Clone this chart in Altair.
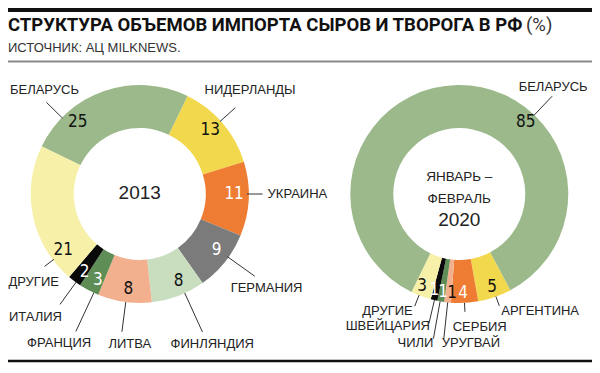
import math
import altair as alt
import pandas as pd

# ---------------- data ----------------
title_main = ["СТРУКТУРА ОБЪЕМОВ ИМПОРТА СЫРОВ И ТВОРОГА В РФ"]
title_unit = ["(%)"]
source_text = ["ИСТОЧНИК: АЦ MILKNEWS."]

panel_names = ["2013", "2020"]
center_lines_2013 = ["2013"]
center_lines_2020 = ["ЯНВАРЬ –", "ФЕВРАЛЬ", "2020"]

left_countries = ["НИДЕРЛАНДЫ", "УКРАИНА", "ГЕРМАНИЯ", "ФИНЛЯНДИЯ", "ЛИТВА",
                  "ФРАНЦИЯ", "ИТАЛИЯ", "ДРУГИЕ", "БЕЛАРУСЬ"]
left_values = [13, 11, 9, 8, 8, 3, 2, 21, 25]

right_countries = ["АРГЕНТИНА", "СЕРБИЯ", "УРУГВАЙ", "ЧИЛИ", "ШВЕЙЦАРИЯ",
                   "ДРУГИЕ", "БЕЛАРУСЬ"]
right_values = [5, 4, 1, 1, 1, 3, 85]

# ---------------- style / layout ----------------
slot_colors = ["#F2D84C", "#EE7D33", "#7B7B7B", "#C9DDBF", "#F2B08E",
               "#5E8E56", "#0A0A0A", "#F7F0A9", "#9BB98A"]
left_slots = [0, 1, 2, 3, 4, 5, 6, 7, 8]
right_slots = [0, 1, 4, 5, 6, 7, 8]
white_text_slots = {1, 2, 5, 6}

W, H = 584, 355
X0, X1 = 3, 597          # reference-pixel domain mapped on the plot width
Y0 = 3                   # reference-pixel origin on the plot height
R_OUT, R_IN = 109, 66

panel_layout = {
    "2013": dict(cx=137, cy=189, rot=26, rnum=96),
    "2020": dict(cx=462, cy=189, rot=152, rnum=99),
}

# (line angle shift, number angle shift, leader end radius, label dx, label dy, align)
left_label_layout = [
    (-1.0, -1.0, 130, 15, -18, "center"),
    (-2.6, -2.6, 125, 5, 0, "left"),
    (-3.5, -3.0, 143, 12, 12, "center"),
    (-4.0, -3.5, 152, 10, 12, "center"),
    (-0.5, -1.0, 139, 8, 12, "center"),
    (-2.5, -1.5, 152, -17, 12, "center"),
    (-0.5, -1.0, 137, -25, 13, "center"),
    (-25.0, -24.0, 121, -11, 16, "center"),
    (-27.0, -22.0, 132, -2, -12, "center"),
]
right_label_layout = [
    (-1.0, -0.7, 119, 2, 5, "left"),
    (0.0, 0.5, 118, 15, 15, "center"),
    (0.0, -2.0, 146, -2, 4, "left"),
    (0.5, -0.2, 147, 0, 4, "right"),
    (0.0, 1.4, 133, 1, 3, "right"),
    (1.4, 1.8, 121, -2, 5, "right"),
    (45.0, 44.0, 136, 1, -9, "center"),
]

NUM_FONT = "Liberation Sans Narrow, DejaVu Sans Condensed, Roboto, sans-serif"
LBL_FONT = "Liberation Sans, Arial, sans-serif"

# ---------------- table ----------------
rows = []
for panel, countries, values, slots, lay in [
    ("2013", left_countries, left_values, left_slots, left_label_layout),
    ("2020", right_countries, right_values, right_slots, right_label_layout),
]:
    p = panel_layout[panel]
    for i, (c, v, s, l) in enumerate(zip(countries, values, slots, lay)):
        rows.append(dict(panel=panel, order=i, country=c, value=v,
                         color=slot_colors[s],
                         tc="#ffffff" if s in white_text_slots else "#111111",
                         shift=l[0], nshift=l[1], rend=l[2], ldx=l[3], ldy=l[4],
                         align=l[5], **p))
df = pd.DataFrame(rows)

center_rows = []
for panel, lines, dys, sizes in [
    ("2013", center_lines_2013, [-1], [19]),
    ("2020", center_lines_2020, [-17, 5, 26], [13.5, 13.5, 19]),
]:
    p = panel_layout[panel]
    for t, dy, sz in zip(lines, dys, sizes):
        center_rows.append(dict(panel=panel, text=t, cx=p["cx"], cy=p["cy"], dy=dy, size=sz))
center_df = pd.DataFrame(center_rows)

xs = alt.Scale(domain=[X0, X1], range=[0, W])
ys = alt.Scale(domain=[Y0, Y0 + H], range=[0, H])
ts = alt.Scale(domain=[0, 360], range=[0, 2 * math.pi])

base = alt.Chart(df).transform_window(
    cum="sum(value)", groupby=["panel"], sort=[alt.SortField("order")],
    frame=[None, 0]
).transform_calculate(
    t0="datum.rot + (datum.cum - datum.value) * 3.6",
    t1="datum.rot + datum.cum * 3.6",
).transform_calculate(
    mid="(datum.t0 + datum.t1) / 2",
).transform_calculate(
    la="(datum.mid + datum.shift) * PI / 180",
    na="(datum.mid + datum.nshift) * PI / 180",
).transform_calculate(
    nx="datum.cx + datum.rnum * sin(datum.na)",
    ny="datum.cy - datum.rnum * cos(datum.na)",
    lx1=f"datum.cx + {R_OUT} * sin(datum.la)",
    ly1=f"datum.cy - {R_OUT} * cos(datum.la)",
    lx2="datum.cx + datum.rend * sin(datum.la)",
    ly2="datum.cy - datum.rend * cos(datum.la)",
).transform_calculate(
    tx="datum.lx2 + datum.ldx",
    ty="datum.ly2 + datum.ldy",
)

arcs = base.mark_arc(innerRadius=R_IN, outerRadius=R_OUT).encode(
    x=alt.X("cx:Q", scale=xs, axis=None),
    y=alt.Y("cy:Q", scale=ys, axis=None),
    theta=alt.Theta("t0:Q", scale=ts, stack=False),
    theta2="t1:Q",
    color=alt.Color("color:N", scale=None),
)

numbers = base.mark_text(font=NUM_FONT, fontSize=17, baseline="middle",
                         align="center").encode(
    x=alt.X("nx:Q", scale=xs, axis=None),
    y=alt.Y("ny:Q", scale=ys, axis=None),
    text="value:Q",
    color=alt.Color("tc:N", scale=None),
)

leaders = base.mark_rule(color="#333333", strokeWidth=1).encode(
    x=alt.X("lx1:Q", scale=xs, axis=None),
    y=alt.Y("ly1:Q", scale=ys, axis=None),
    x2="lx2:Q",
    y2="ly2:Q",
)

label_layers = []
for al in ["left", "center", "right"]:
    label_layers.append(
        base.transform_filter(alt.datum.align == al).mark_text(
            font=LBL_FONT, fontSize=13, align=al, baseline="middle", color="#222222"
        ).encode(
            x=alt.X("tx:Q", scale=xs, axis=None),
            y=alt.Y("ty:Q", scale=ys, axis=None),
            text="country:N",
        )
    )

centers = alt.Chart(center_df).transform_calculate(
    yy="datum.cy + datum.dy"
).mark_text(font=LBL_FONT, baseline="middle", align="center", color="#222222").encode(
    x=alt.X("cx:Q", scale=xs, axis=None),
    y=alt.Y("yy:Q", scale=ys, axis=None),
    text="text:N",
    size=alt.Size("size:Q", scale=None),
)

one = pd.DataFrame({"k": [0]})
title1 = alt.Chart(pd.DataFrame({"t": title_main})).mark_text(
    font="Roboto, Liberation Sans, sans-serif", fontSize=18.5, fontWeight="bold",
    align="left", baseline="middle", color="#111111"
).encode(x=alt.value(0), y=alt.value(17), text="t:N")
title2 = alt.Chart(pd.DataFrame({"t": title_unit})).mark_text(
    font="Roboto, Liberation Sans, sans-serif", fontSize=18.5,
    align="left", baseline="middle", color="#333333"
).encode(x=alt.value(518), y=alt.value(17), text="t:N")
subtitle = alt.Chart(pd.DataFrame({"t": source_text})).mark_text(
    font=LBL_FONT, fontSize=13, align="left", baseline="middle", color="#333333"
).encode(x=alt.value(0), y=alt.value(40), text="t:N")

top_bar = alt.Chart(one).mark_rule(color="#111111", strokeWidth=4).encode(
    x=alt.value(0), x2=alt.value(W), y=alt.value(2))
gray_bar = alt.Chart(one).mark_rule(color="#8a8a8a", strokeWidth=2).encode(
    x=alt.value(0), x2=alt.value(W), y=alt.value(53.5))
bottom_bar = alt.Chart(one).mark_rule(color="#111111", strokeWidth=2.5).encode(
    x=alt.value(0), x2=alt.value(W), y=alt.value(H - 2))

chart = alt.layer(
    top_bar, gray_bar, bottom_bar, title1, title2, subtitle,
    arcs, leaders, numbers, centers, *label_layers
).properties(
    width=W, height=H, padding=0,
    autosize=alt.AutoSizeParams(type="none"),
    background="white",
).configure_view(stroke=None)

chart.save("out.html", embed_options={"renderer": "svg", "actions": False})
